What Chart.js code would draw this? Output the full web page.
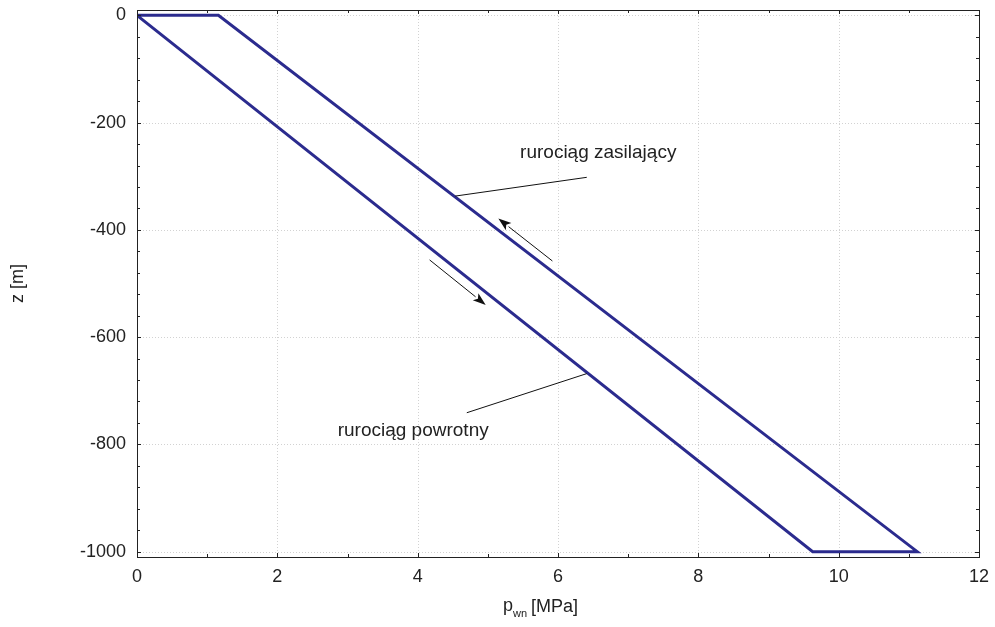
<!DOCTYPE html>
<html>
<head>
<meta charset="utf-8">
<script src="https://cdn.jsdelivr.net/npm/chart.js@4.4.0/dist/chart.umd.min.js"></script>
<style>
html, body { margin: 0; padding: 0; background: #fff; }
canvas { display: block; }
</style>
</head>
<body>
<canvas id="wykres" width="995" height="627"></canvas>
<script>
// obwód: rurociąg zasilający + powrotny (p_wn [MPa], z [m])
const pressure = [0, 1.16, 11.12, 9.63, 0];
const depth = [0, 0, -1000, -1000, 0];

const xTicks = [0, 2, 4, 6, 8, 10, 12];
const yTicks = [0, -200, -400, -600, -800, -1000];

// opisy i strzałki (w jednostkach danych)
const labelTexts = ["rurociąg zasilający", "rurociąg powrotny"];
const labelPos = [[5.46, -257], [2.86, -775]];
const leaders = [[[4.535, -337], [6.41, -302]], [[4.70, -741], [6.41, -668]]];
const arrows = [[[5.92, -458], [5.15, -379]], [[4.17, -456], [4.97, -540]]];

const FONT = '"Liberation Sans", Arial, sans-serif';

function crisp(v) { return Math.round(v) + 0.5; }

const ramka = {
    id: 'ramka',
    beforeDatasetsDraw(chart) {
        const ctx = chart.ctx, a = chart.chartArea;
        const sx = chart.scales.x, sy = chart.scales.y;
        ctx.save();
        ctx.strokeStyle = '#d2d2d2';
        ctx.lineWidth = 1;
        ctx.setLineDash([1, 2]);
        xTicks.forEach(v => {
            const x = crisp(sx.getPixelForValue(v));
            ctx.beginPath(); ctx.moveTo(x, a.top); ctx.lineTo(x, a.bottom); ctx.stroke();
        });
        yTicks.forEach(v => {
            const y = crisp(sy.getPixelForValue(v));
            ctx.beginPath(); ctx.moveTo(a.left, y); ctx.lineTo(a.right, y); ctx.stroke();
        });
        ctx.restore();
    },
    afterDraw(chart) {
        const ctx = chart.ctx, a = chart.chartArea;
        const sx = chart.scales.x, sy = chart.scales.y;
        ctx.save();
        // ramka
        ctx.strokeStyle = '#222';
        ctx.lineWidth = 1;
        ctx.strokeRect(crisp(a.left), crisp(a.top), Math.round(a.right - a.left), Math.round(a.bottom - a.top));
        // znaczniki do wewnątrz
        ctx.beginPath();
        for (let v = 0; v <= 12; v += 1) {
            const x = crisp(sx.getPixelForValue(v));
            const len = v % 2 === 0 ? 4 : 3;
            ctx.moveTo(x, a.bottom); ctx.lineTo(x, a.bottom - len);
            ctx.moveTo(x, a.top); ctx.lineTo(x, a.top + len);
        }
        for (let v = 0; v >= -1000; v -= 40) {
            const y = crisp(sy.getPixelForValue(v));
            const len = v % 200 === 0 ? 4 : 3;
            ctx.moveTo(a.left, y); ctx.lineTo(a.left + len, y);
            ctx.moveTo(a.right, y); ctx.lineTo(a.right - len, y);
        }
        ctx.stroke();

        // linie odniesienia
        ctx.strokeStyle = '#111';
        ctx.lineWidth = 1;
        leaders.forEach(l => {
            ctx.beginPath();
            ctx.moveTo(sx.getPixelForValue(l[0][0]), sy.getPixelForValue(l[0][1]));
            ctx.lineTo(sx.getPixelForValue(l[1][0]), sy.getPixelForValue(l[1][1]));
            ctx.stroke();
        });
        // strzałki
        ctx.fillStyle = '#111';
        arrows.forEach(ar => {
            const x0 = sx.getPixelForValue(ar[0][0]), y0 = sy.getPixelForValue(ar[0][1]);
            const x1 = sx.getPixelForValue(ar[1][0]), y1 = sy.getPixelForValue(ar[1][1]);
            const ang = Math.atan2(y1 - y0, x1 - x0);
            const hl = 13, hw = 4.5;
            const bx = x1 - hl * Math.cos(ang), by = y1 - hl * Math.sin(ang);
            ctx.beginPath(); ctx.moveTo(x0, y0); ctx.lineTo(bx, by); ctx.stroke();
            ctx.beginPath();
            ctx.moveTo(x1, y1);
            ctx.lineTo(bx + hw * Math.sin(ang), by - hw * Math.cos(ang));
            ctx.lineTo(bx + 3 * Math.cos(ang), by + 3 * Math.sin(ang));
            ctx.lineTo(bx - hw * Math.sin(ang), by + hw * Math.cos(ang));
            ctx.closePath();
            ctx.fill();
        });
        // opisy
        ctx.fillStyle = '#222';
        ctx.font = '19px ' + FONT;
        ctx.textAlign = 'left';
        ctx.textBaseline = 'middle';
        labelTexts.forEach((t, i) => {
            ctx.fillText(t, sx.getPixelForValue(labelPos[i][0]), sy.getPixelForValue(labelPos[i][1]));
        });

        // tytuły osi
        ctx.font = '18px ' + FONT;
        ctx.textBaseline = 'alphabetic';
        ctx.fillText('p', 503, 611);
        ctx.font = '11px ' + FONT;
        ctx.fillText('wn', 513, 617);
        ctx.font = '18px ' + FONT;
        ctx.fillText('[MPa]', 531, 612);

        ctx.save();
        ctx.translate(18, (a.top + a.bottom) / 2);
        ctx.rotate(-Math.PI / 2);
        ctx.textAlign = 'center';
        ctx.textBaseline = 'middle';
        ctx.fillText('z [m]', 0, 0);
        ctx.restore();
        ctx.restore();
    }
};

window.addEventListener("load", function() {
    let ctx = document.getElementById("wykres").getContext("2d");
    new Chart(ctx, {
        type: "scatter",
        data: {
            datasets: [{
                data: pressure.map((p, i) => ({ x: p, y: depth[i] })),
                showLine: true,
                borderColor: "#2b2b8e",
                borderWidth: 3,
                borderJoinStyle: "miter",
                pointRadius: 0,
                fill: false,
                tension: 0
            }]
        },
        options: {
            responsive: false,
            animation: false,
            layout: { padding: { left: 0, top: 10, right: 16, bottom: 0 } },
            plugins: { legend: { display: false }, tooltip: { enabled: false } },
            scales: {
                x: {
                    type: "linear",
                    min: 0, max: 12,
                    afterBuildTicks: s => { s.ticks = xTicks.map(v => ({ value: v })); },
                    afterFit: s => { s.height = 70; s.paddingLeft = 0; s.paddingRight = 0; },
                    grid: { display: false, drawTicks: false },
                    border: { display: false },
                    ticks: { color: "#222", padding: 9, maxRotation: 0, callback: v => String(v), font: { family: FONT, size: 18 } }
                },
                y: {
                    type: "linear",
                    min: -1010, max: 10,
                    afterBuildTicks: s => { s.ticks = yTicks.map(v => ({ value: v })); },
                    afterFit: s => { s.width = 137; s.paddingTop = 0; s.paddingBottom = 0; },
                    grid: { display: false, drawTicks: false },
                    border: { display: false },
                    ticks: { color: "#222", padding: 11, callback: v => String(v), font: { family: FONT, size: 18 } }
                }
            }
        },
        plugins: [ramka]
    });
}, false);
</script>
</body>
</html>
